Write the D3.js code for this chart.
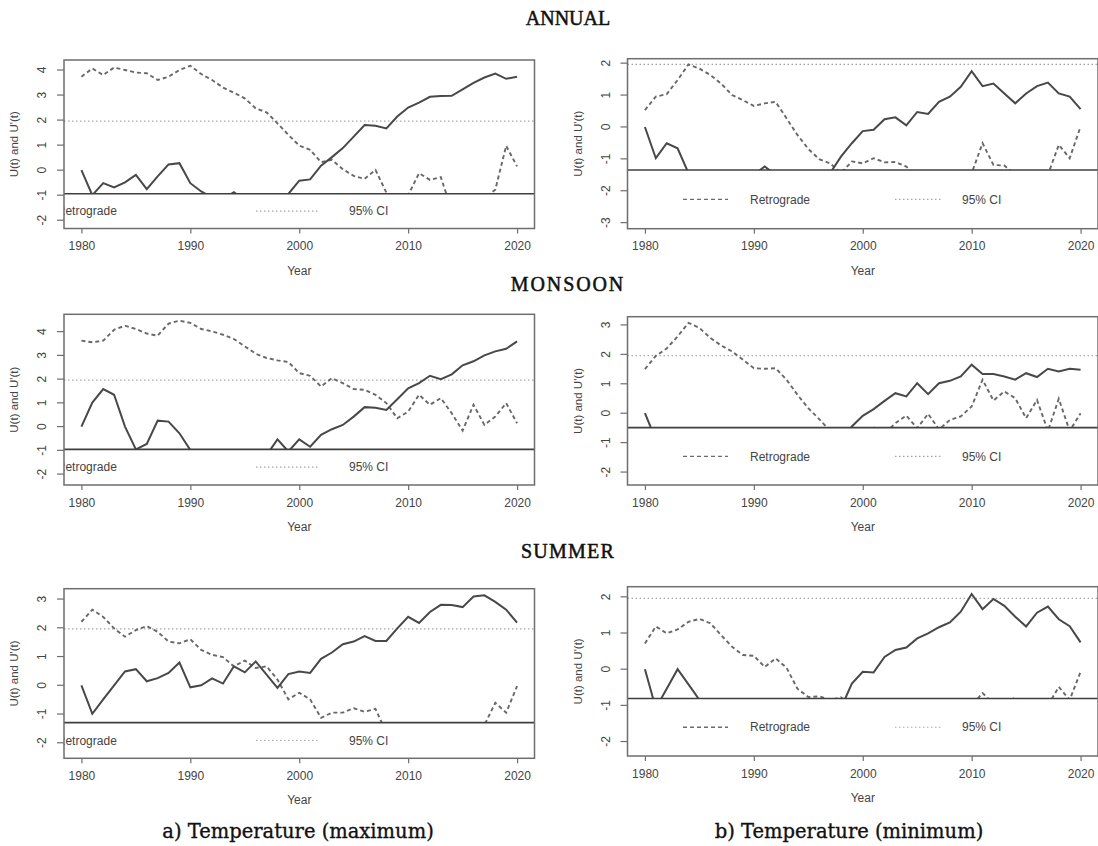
<!DOCTYPE html>
<html>
<head>
<meta charset="utf-8">
<script src="https://cdn.jsdelivr.net/npm/d3@7"></script>
<style>
  body { margin: 0; background: #fff; }
  svg { display: block; }
</style>
</head>
<body>
<div id="chart"></div>
<script>
// years of record
var years = [1980, 1981, 1982, 1983, 1984, 1985, 1986, 1987, 1988, 1989,
             1990, 1991, 1992, 1993, 1994, 1995, 1996, 1997, 1998, 1999,
             2000, 2001, 2002, 2003, 2004, 2005, 2006, 2007, 2008, 2009,
             2010, 2011, 2012, 2013, 2014, 2015, 2016, 2017, 2018, 2019, 2020];

// sequential Mann-Kendall, progressive U(t) and retrograde U'(t)
var annualMaxProg = [0, -1.0, -0.52, -0.69, -0.49, -0.19, -0.76, -0.25, 0.23, 0.28,
                     -0.52, -0.85, -1.1, -1.15, -0.88, -1.2, -1.3, -1.25, -1.2, -0.95,
                     -0.42, -0.37, 0.18, 0.52, 0.88, 1.34, 1.8, 1.77, 1.67, 2.14,
                     2.5, 2.7, 2.93, 2.96, 2.97, 3.23, 3.49, 3.7, 3.86, 3.65, 3.73];
var annualMaxRetro = [3.73, 4.06, 3.8, 4.1, 4.0, 3.9, 3.87, 3.6, 3.73, 4.0,
                      4.17, 3.84, 3.6, 3.3, 3.09, 2.87, 2.47, 2.31, 1.87, 1.41,
                      0.98, 0.81, 0.32, 0.41, 0.04, -0.23, -0.35, 0.01, -0.9, -1.2,
                      -1.0, -0.12, -0.39, -0.28, -1.6, -1.2, -1.3, -1.1, -0.78, 0.97, 0.15];

var annualMinProg = [0, -0.98, -0.51, -0.67, -1.45, -1.6, -1.8, -1.7, -1.9, -1.6,
                     -1.5, -1.24, -1.5, -1.7, -1.8, -1.6, -1.55, -1.45, -0.93, -0.51,
                     -0.13, -0.09, 0.24, 0.3, 0.05, 0.47, 0.41, 0.79, 0.95, 1.26,
                     1.75, 1.28, 1.36, 1.05, 0.74, 1.05, 1.28, 1.39, 1.05, 0.95, 0.56];
var annualMinRetro = [0.53, 0.95, 1.03, 1.47, 1.96, 1.83, 1.63, 1.36, 1.0, 0.84,
                      0.66, 0.74, 0.79, 0.27, -0.25, -0.69, -1.01, -1.14, -1.45, -1.08,
                      -1.14, -0.98, -1.11, -1.1, -1.24, -1.6, -1.8, -1.7, -1.9, -1.7,
                      -1.45, -0.51, -1.19, -1.21, -1.5, -1.7, -1.6, -1.5, -0.56, -0.98, 0.01];

var monsoonMaxProg = [0, 1.01, 1.58, 1.34, 0, -0.96, -0.73, 0.25, 0.21, -0.28,
                      -0.99, -1.3, -1.5, -1.6, -1.5, -1.4, -1.3, -1.2, -0.54, -1.05,
                      -0.54, -0.85, -0.35, -0.11, 0.07, 0.42, 0.82, 0.79, 0.7, 1.15,
                      1.61, 1.83, 2.14, 2.0, 2.2, 2.58, 2.75, 3.0, 3.17, 3.28, 3.59];
var monsoonMaxRetro = [3.62, 3.55, 3.62, 4.08, 4.25, 4.11, 3.92, 3.83, 4.34, 4.46,
                       4.37, 4.11, 4.01, 3.87, 3.69, 3.38, 3.07, 2.89, 2.79, 2.72,
                       2.25, 2.14, 1.69, 2.04, 1.83, 1.58, 1.55, 1.34, 0.99, 0.35,
                       0.63, 1.34, 0.92, 1.2, 0.56, -0.17, 0.92, 0.07, 0.42, 0.99, 0.14];

var monsoonMinProg = [0, -0.9, -1.1, -1.3, -1.2, -1.4, -1.5, -1.3, -1.4, -1.6,
                      -1.5, -1.4, -1.5, -1.6, -1.5, -1.3, -1.2, -1.1, -1.0, -0.45,
                      -0.09, 0.14, 0.42, 0.68, 0.57, 1.02, 0.65, 1.02, 1.1, 1.25,
                      1.65, 1.33, 1.33, 1.25, 1.14, 1.36, 1.23, 1.51, 1.42, 1.51, 1.48];
var monsoonMinRetro = [1.5, 1.95, 2.2, 2.61, 3.07, 2.9, 2.56, 2.3, 2.1, 1.82,
                       1.53, 1.51, 1.53, 1.14, 0.63, 0.17, -0.2, -0.6, -0.9, -1.0,
                       -0.8, -0.48, -0.7, -0.34, -0.08, -0.51, -0.02, -0.55, -0.23, -0.11,
                       0.23, 1.14, 0.43, 0.74, 0.51, -0.17, 0.45, -0.6, 0.49, -0.6, 0];

var summerMaxProg = [0, -0.99, -0.49, 0, 0.48, 0.56, 0.14, 0.25, 0.43, 0.79,
                     -0.07, 0, 0.24, 0.06, 0.66, 0.45, 0.83, 0.37, -0.09, 0.39,
                     0.48, 0.43, 0.92, 1.14, 1.43, 1.52, 1.71, 1.54, 1.54, 1.98,
                     2.38, 2.17, 2.55, 2.8, 2.79, 2.72, 3.09, 3.13, 2.9, 2.63, 2.18];
var summerMaxRetro = [2.21, 2.63, 2.38, 1.98, 1.69, 1.92, 2.06, 1.86, 1.52, 1.46,
                      1.6, 1.23, 1.06, 0.98, 0.66, 0.86, 0.6, 0.66, 0.2, -0.49,
                      -0.26, -0.49, -1.13, -0.95, -0.95, -0.8, -0.92, -0.82, -1.65, -1.6,
                      -1.7, -1.6, -1.8, -1.7, -1.6, -1.7, -1.6, -1.38, -0.61, -0.95, -0.03];

var summerMinProg = [0, -1.08, -0.54, 0, -0.42, -0.85, -1.1, -1.3, -1.2, -1.4,
                     -1.3, -1.5, -1.4, -1.3, -1.5, -1.4, -1.3, -1.2, -1.08, -0.4,
                     -0.07, -0.09, 0.34, 0.53, 0.6, 0.85, 0.99, 1.16, 1.29, 1.59,
                     2.08, 1.66, 1.94, 1.75, 1.45, 1.18, 1.56, 1.73, 1.38, 1.19, 0.74];
var summerMinRetro = [0.71, 1.18, 0.99, 1.1, 1.31, 1.39, 1.27, 0.94, 0.62, 0.39,
                      0.37, 0.06, 0.3, 0.04, -0.54, -0.77, -0.75, -0.85, -0.78, -1.0,
                      -1.2, -1.3, -1.2, -1.1, -1.3, -1.4, -1.3, -1.2, -1.1, -1.2,
                      -1.0, -0.66, -0.95, -1.0, -0.78, -1.0, -1.1, -1.0, -0.49, -0.85, -0.07];

var xTicks = [1980, 1990, 2000, 2010, 2020];
var seasonTitles = ["ANNUAL", "MONSOON", "SUMMER"];
var captions = ["a) Temperature (maximum)", "b) Temperature (minimum)"];
var legendLabels = ["Retrograde", "95% CI"];
var ciLevel = 1.96;

var width = 1098,
    height = 846;

// one entry per plot: series, y range as R picked it, and where the legend box starts
var panels = [
  { prog: annualMaxProg,  retro: annualMaxRetro,  ylim: [-2.33, 4.4],  yticks: [-2, -1, 0, 1, 2, 3, 4], legendAt: -0.94, col: 0, top: 60,    h: 168.5 },
  { prog: annualMinProg,  retro: annualMinRetro,  ylim: [-3.19, 2.14], yticks: [-3, -2, -1, 0, 1, 2],    legendAt: -1.35, col: 1, top: 58.7,  h: 170 },
  { prog: monsoonMaxProg, retro: monsoonMaxRetro, ylim: [-2.46, 4.73], yticks: [-2, -1, 0, 1, 2, 3, 4], legendAt: -0.96, col: 0, top: 314.3, h: 170.7 },
  { prog: monsoonMinProg, retro: monsoonMinRetro, ylim: [-2.44, 3.28], yticks: [-2, -1, 0, 1, 2, 3],    legendAt: -0.49, col: 1, top: 316.7, h: 168.3 },
  { prog: summerMaxProg,  retro: summerMaxRetro,  ylim: [-2.54, 3.36], yticks: [-2, -1, 0, 1, 2, 3],    legendAt: -1.3,  col: 0, top: 588.7, h: 169.6 },
  { prog: summerMinProg,  retro: summerMinRetro,  ylim: [-2.4, 2.28],  yticks: [-2, -1, 0, 1, 2],        legendAt: -0.81, col: 1, top: 586.7, h: 169.3 }
];

var colLeft = [64, 627.5],
    plotW = 470.5;

// legend layout differs a little between the two columns
var legendLayout = [
  { dash: [-20, 0],      retroText: 52.8,  retroAnchor: "end",   dot: [192, 256],   ciText: 285 },
  { dash: [55.5, 100.5], retroText: 122.5, retroAnchor: "start", dot: [267.5, 313.5], ciText: 334.5 }
];

var svg = d3.select("#chart")
    .append("svg")
    .attr("width", width)
    .attr("height", height);

var sans = "'Liberation Sans', Arial, sans-serif";
var textCol = "#444";

var x = d3.scaleLinear().domain([1978.4, 2021.6]).range([0, plotW]);

panels.forEach(function(p, i) {
    var g = svg.append("g")
        .attr("transform", "translate(" + colLeft[p.col] + "," + p.top + ")");

    var y = d3.scaleLinear().domain(p.ylim).range([p.h, 0]);

    var clipId = "clip" + i;
    g.append("clipPath").attr("id", clipId)
        .append("rect").attr("width", plotW).attr("height", p.h);

    var inner = g.append("g").attr("clip-path", "url(#" + clipId + ")");

    // 95% CI lines
    inner.selectAll(".ci")
        .data([ciLevel, -ciLevel]).enter()
        .append("line")
        .attr("x1", 0).attr("x2", plotW)
        .attr("y1", function(d) { return y(d); })
        .attr("y2", function(d) { return y(d); })
        .attr("stroke", "#a8a8a8")
        .attr("stroke-width", 1.2)
        .attr("stroke-dasharray", "1.5,2.5");

    var line = d3.line()
        .x(function(d, k) { return x(years[k]); })
        .y(function(d) { return y(d); });

    inner.append("path")
        .datum(p.retro)
        .attr("d", line)
        .attr("fill", "none")
        .attr("stroke", "#686868")
        .attr("stroke-width", 1.9)
        .attr("stroke-dasharray", "4,3");

    inner.append("path")
        .datum(p.prog)
        .attr("d", line)
        .attr("fill", "none")
        .attr("stroke", "#484848")
        .attr("stroke-width", 2);

    // legend box sits over the lower part of the plot
    var ly = y(p.legendAt);
    var lay = legendLayout[p.col];
    var mid = (ly + p.h) / 2;
    var leg = inner.append("g");
    leg.append("rect")
        .attr("x", -2).attr("y", ly)
        .attr("width", plotW + 4).attr("height", p.h - ly + 2)
        .attr("fill", "#fff");
    leg.append("line")
        .attr("x1", 0).attr("x2", plotW)
        .attr("y1", ly).attr("y2", ly)
        .attr("stroke", "#3f3f3f")
        .attr("stroke-width", 1.6);
    leg.append("line")
        .attr("x1", lay.dash[0]).attr("x2", lay.dash[1])
        .attr("y1", mid).attr("y2", mid)
        .attr("stroke", "#6b6b6b").attr("stroke-width", 1.3)
        .attr("stroke-dasharray", "4,3");
    leg.append("text")
        .attr("x", lay.retroText).attr("y", mid)
        .attr("dy", "0.35em")
        .attr("text-anchor", lay.retroAnchor)
        .attr("font-family", sans).attr("font-size", 12)
        .attr("fill", textCol)
        .text(legendLabels[0]);
    leg.append("line")
        .attr("x1", lay.dot[0]).attr("x2", lay.dot[1])
        .attr("y1", mid).attr("y2", mid)
        .attr("stroke", "#a8a8a8").attr("stroke-width", 1.2)
        .attr("stroke-dasharray", "1.5,2.5");
    leg.append("text")
        .attr("x", lay.ciText).attr("y", mid)
        .attr("dy", "0.35em")
        .attr("font-family", sans).attr("font-size", 12)
        .attr("fill", textCol)
        .text(legendLabels[1]);

    // plot frame
    g.append("rect")
        .attr("width", plotW).attr("height", p.h)
        .attr("fill", "none")
        .attr("stroke", "#6e6e6e")
        .attr("stroke-width", 1.5);

    // y axis, R style labels parallel to the axis
    var yAxis = g.append("g")
        .call(d3.axisLeft(y).tickValues(p.yticks).tickSize(7)
            .tickFormat(function(d) { return String(d); }));
    yAxis.select(".domain").remove();
    yAxis.selectAll("line").attr("stroke", "#6e6e6e").attr("stroke-width", 1.2);
    yAxis.selectAll("text")
        .attr("x", null).attr("dy", null)
        .attr("transform", function(d) { return "translate(-18," + y(d) + ") rotate(-90)"; })
        .attr("y", 0)
        .attr("text-anchor", "middle")
        .attr("font-family", sans).attr("font-size", 12)
        .attr("fill", textCol);
    yAxis.selectAll(".tick").attr("transform", null);
    yAxis.selectAll(".tick line")
        .attr("y1", function(d) { return y(d); })
        .attr("y2", function(d) { return y(d); });

    // x axis
    var xAxis = g.append("g")
        .attr("transform", "translate(0," + p.h + ")")
        .call(d3.axisBottom(x).tickValues(xTicks).tickSize(5).tickPadding(8)
            .tickFormat(function(d) { return String(d); }));
    xAxis.select(".domain").remove();
    xAxis.selectAll("line").attr("stroke", "#6e6e6e").attr("stroke-width", 1.2);
    xAxis.selectAll("text")
        .attr("font-family", sans).attr("font-size", 12)
        .attr("fill", textCol);

    g.append("text")
        .attr("x", plotW / 2).attr("y", p.h + 46)
        .attr("text-anchor", "middle")
        .attr("font-family", sans).attr("font-size", 12)
        .attr("fill", textCol)
        .text("Year");

    g.append("text")
        .attr("transform", "translate(-46," + (p.h / 2) + ") rotate(-90)")
        .attr("text-anchor", "middle")
        .attr("font-family", sans).attr("font-size", 11.5)
        .attr("fill", textCol)
        .text("U(t) and U'(t)");
});

// season headings
var titleY = [25, 291, 558],
    titleSpacing = [0, 1.9, 1.2];
svg.selectAll(".season")
    .data(seasonTitles).enter()
    .append("text")
    .attr("x", 568)
    .attr("y", function(d, i) { return titleY[i]; })
    .attr("text-anchor", "middle")
    .attr("font-family", "'Liberation Serif', 'Times New Roman', serif")
    .attr("font-size", 20)
    .attr("letter-spacing", function(d, i) { return titleSpacing[i]; })
    .attr("fill", "#111")
    .attr("stroke", "#111")
    .attr("stroke-width", 0.5)
    .text(function(d) { return d; });

// column captions
svg.selectAll(".caption")
    .data(captions).enter()
    .append("text")
    .attr("x", function(d, i) { return i === 0 ? 298 : 849; })
    .attr("y", 838)
    .attr("text-anchor", "middle")
    .attr("font-family", "'DejaVu Serif', serif")
    .attr("font-size", 19.5)
    .attr("fill", "#111")
    .attr("stroke", "#111")
    .attr("stroke-width", 0.35)
    .text(function(d) { return d; });
</script>
</body>
</html>
